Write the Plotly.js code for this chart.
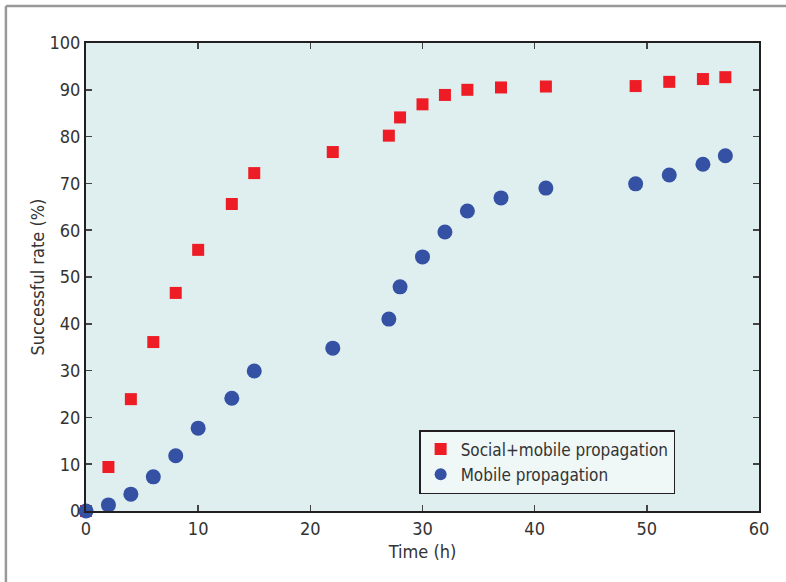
<!DOCTYPE html>
<html>
<head>
<meta charset="utf-8">
<script src="https://cdn.plot.ly/plotly-3.0.1.min.js"></script>
<style>html,body{margin:0;padding:0;background:#fff;}#chart{width:786px;height:582px;}</style>
</head>
<body>
<div id="chart"></div>
<script>
var timeH = [0, 2, 4, 6, 8, 10, 13, 15, 22, 27, 28, 30, 32, 34, 37, 41, 49, 52, 55, 57];
var socialMobile = [0, 9.4, 23.9, 36.1, 46.6, 55.8, 65.6, 72.2, 76.7, 80.2, 84.1, 86.9, 88.9, 90.0, 90.5, 90.7, 90.8, 91.7, 92.3, 92.7];
var mobileOnly = [0, 1.3, 3.6, 7.3, 11.8, 17.7, 24.1, 29.9, 34.8, 41.0, 47.9, 54.3, 59.6, 64.1, 66.9, 69.0, 69.9, 71.8, 74.1, 75.9];
var seriesNames = ["Social+mobile propagation", "Mobile propagation"];
var xTicks = [0, 10, 20, 30, 40, 50, 60];
var yTicks = [0, 10, 20, 30, 40, 50, 60, 70, 80, 90, 100];

var fontFam = '"Liberation Sans Narrow", "DejaVu Sans Condensed", "Liberation Sans", sans-serif';

var traces = [
  {x: timeH, y: socialMobile, name: seriesNames[0], type: 'scatter', mode: 'markers',
   marker: {symbol: 'square', size: 12, color: '#ee1c25'}, cliponaxis: false},
  {x: timeH, y: mobileOnly, name: seriesNames[1], type: 'scatter', mode: 'markers',
   marker: {symbol: 'circle', size: 15, color: '#3451a3'}, cliponaxis: false}
];

var axisCommon = {
  showline: true, linecolor: '#231f20', linewidth: 2, mirror: 'allticks',
  ticks: 'inside', ticklen: 6, tickwidth: 1.5, tickcolor: '#444',
  showgrid: false, zeroline: false,
  tickfont: {family: fontFam, size: 18, color: '#333'}
};

var layout = {
  width: 786, height: 582,
  margin: {l: 86, r: 27, t: 43, b: 71},
  paper_bgcolor: '#ffffff', plot_bgcolor: '#dfeeef',
  showlegend: true,
  legend: {x: 0.495, y: 0.173, xanchor: 'left', yanchor: 'top',
    bgcolor: '#f0f7f7', bordercolor: '#231f20', borderwidth: 1.5,
    font: {family: fontFam, size: 17, color: '#333'}, itemsizing: 'constant', tracegroupgap: 0},
  xaxis: Object.assign({}, axisCommon, {range: [0, 60], tickvals: xTicks,
    title: {text: 'Time (h)', font: {family: fontFam, size: 18, color: '#333'}, standoff: 8}}),
  yaxis: Object.assign({}, axisCommon, {range: [0, 100], tickvals: yTicks,
    title: {text: 'Successful rate (%)', font: {family: fontFam, size: 18, color: '#333'}, standoff: 0}}),
  shapes: [
    {type: 'line', xref: 'paper', yref: 'paper', x0: -0.119, x1: 1.1, y0: 1.079, y1: 1.079,
     line: {color: '#999', width: 2.5}},
    {type: 'line', xref: 'paper', yref: 'paper', x0: -0.119, x1: -0.119, y0: 1.079, y1: -0.2,
     line: {color: '#999', width: 2.5}}
  ]
};

Plotly.newPlot('chart', traces, layout, {displayModeBar: false, staticPlot: true});
</script>
</body>
</html>
